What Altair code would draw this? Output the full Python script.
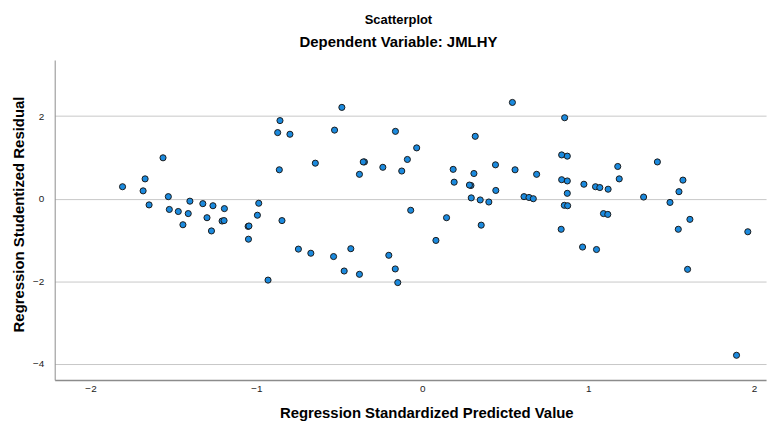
import altair as alt
import pandas as pd

predicted = [
    -1.807, -1.683, -1.671, -1.563, -1.531, -1.647, -1.525, -1.471, -1.443, -1.411,
    -1.401, -1.323, -1.298, -1.271, -1.262, -1.193, -1.207, -1.195, -0.986, -0.994,
    -1.050, -1.045, -1.048, -0.930, -0.858, -0.872, -0.798, -0.862, -0.846, -0.747,
    -0.672, -0.645, -0.535, -0.529, -0.485, -0.471, -0.431, -0.379, -0.379, -0.349,
    -0.356, -0.238, -0.202, -0.163, -0.162, -0.148, -0.124, -0.090, -0.070, -0.034,
    0.082, 0.146, 0.186, 0.192, 0.293, 0.284, 0.295, 0.311, 0.319, 0.349,
    0.355, 0.401, 0.441, 0.443, 0.543, 0.559, 0.613, 0.643, 0.669, 0.689,
    0.837, 0.840, 0.874, 0.840, 0.874, 0.858, 0.874, 0.856, 0.876, 0.966,
    0.974, 1.044, 1.050, 1.070, 1.092, 1.118, 1.120, 1.178, 1.187, 1.334,
    1.417, 1.493, 1.543, 1.547, 1.571, 1.599, 1.613, 1.894, 1.962,
]
residual = [
    0.29, 0.19, 0.48, 0.99, 0.05, -0.15, -0.26, -0.31, -0.63, -0.36,
    -0.06, -0.12, -0.46, -0.78, -0.17, -0.24, -0.54, -0.53, -0.11, -0.40,
    -0.67, -0.66, -0.98, -1.97, 1.89, 1.60, 1.56, 0.70, -0.53, -1.22,
    -1.32, 0.86, -1.40, 1.66, 2.21, -1.75, -1.21, 0.59, -1.83, 0.89,
    0.89, 0.76, -1.37, -1.70, 1.63, -2.03, 0.67, 0.95, -0.28, 1.23,
    -1.01, -0.46, 0.71, 0.40, 0.32, 0.33, 0.02, 0.61, 1.51, -0.03,
    -0.64, -0.08, 0.82, 0.20, 2.33, 0.70, 0.05, 0.03, 0.00, 0.59,
    -0.74, 1.06, 1.03, 0.46, 0.43, 1.96, 0.13, -0.16, -0.17, -1.17,
    0.35, 0.29, -1.23, 0.27, -0.36, -0.38, 0.23, 0.78, 0.48, 0.04,
    0.89, -0.09, -0.74, 0.17, 0.45, -1.71, -0.50, -3.79, -0.80,
]
x_ticks = [-2, -1, 0, 1, 2]
y_ticks = [-4, -2, 0, 2]

df = pd.DataFrame({"pred": predicted, "resid": residual})

font = "Liberation Sans"

chart = (
    alt.Chart(df)
    .mark_point(filled=True, fill="#1b8ade", stroke="#1a1a1a", strokeWidth=1, size=38, opacity=1)
    .encode(
        x=alt.X(
            "pred:Q",
            scale=alt.Scale(domain=[-2.216, 2.072], nice=False, zero=False),
            axis=alt.Axis(
                title="Regression Standardized Predicted Value",
                values=x_ticks,
                grid=False,
                ticks=False,
                domainColor="#8c8c8c",
                domainWidth=1.5,
                labelPadding=4,
                titlePadding=12,
                titleX=374,
            ),
        ),
        y=alt.Y(
            "resid:Q",
            scale=alt.Scale(domain=[-4.386, 3.357], nice=False, zero=False),
            axis=alt.Axis(
                title="Regression Studentized Residual",
                values=y_ticks,
                grid=True,
                gridColor="#c8c8c8",
                gridWidth=1,
                ticks=False,
                domainColor="#8c8c8c",
                labelPadding=11,
                titlePadding=6,
                titleY=155,
            ),
        ),
    )
    .properties(
        width=716,
        height=322,
        padding={"left": 47, "top": 51, "right": 8, "bottom": 40},
        autosize=alt.AutoSizeParams(type="none"),
        title=alt.TitleParams(
            text="Scatterplot",
            subtitle="Dependent Variable: JMLHY",
            font=font,
            fontSize=13,
            fontWeight="bold",
            color="#000000",
            subtitleFont=font,
            subtitleFontSize=15,
            subtitleFontWeight="bold",
            subtitleColor="#000000",
            subtitlePadding=8,
            anchor="middle",
            dx=-12,
            offset=10,
        ),
    )
    .configure_view(stroke=None)
    .configure_axis(
        labelFont=font,
        labelFontSize=10,
        labelColor="#222222",
        titleFont=font,
        titleFontSize=15,
        titleFontWeight="bold",
        titleColor="#000000",
    )
)

chart.save("out.html", embed_options={"renderer": "svg", "actions": False})
